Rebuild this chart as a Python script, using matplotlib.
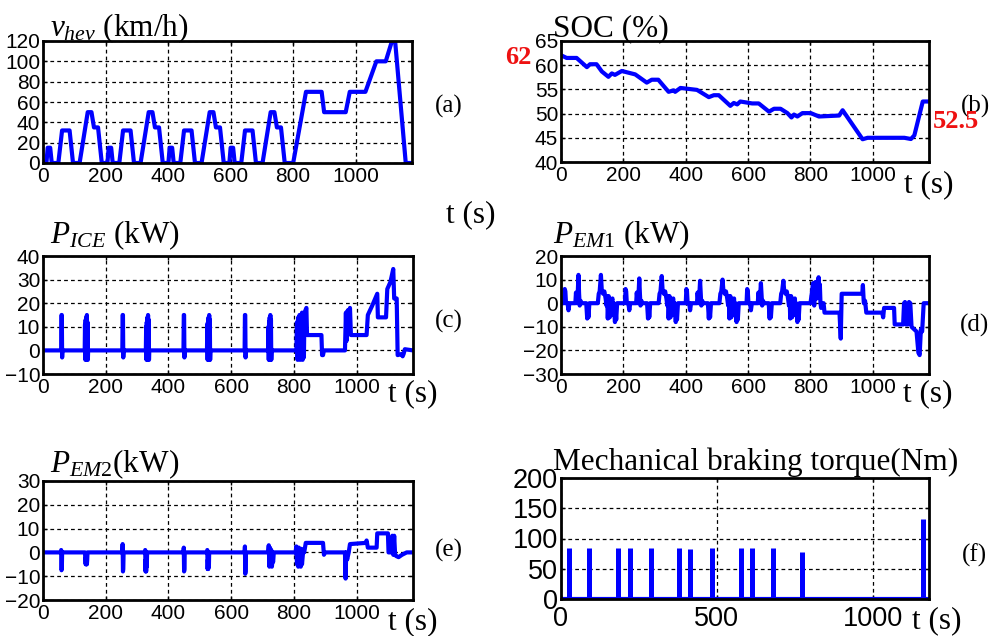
import matplotlib
matplotlib.use("Agg")
import matplotlib.pyplot as plt

plt.rcParams["font.family"] = ["Liberation Sans", "DejaVu Sans"]
plt.rcParams["mathtext.fontset"] = "custom"
plt.rcParams["mathtext.rm"] = "Liberation Serif"
plt.rcParams["mathtext.it"] = "Liberation Serif:italic"
plt.rcParams["mathtext.bf"] = "Liberation Serif:bold"

# ---------------- data ----------------
# vehicle speed over the NEDC (4 urban cycles + extra-urban cycle)
speed_t = [0, 11, 15, 23, 28, 49, 61, 85, 96, 117, 143, 155, 163, 176, 188,
           206, 210, 218, 223, 244, 256, 280, 291, 312, 338, 350, 358, 371, 383,
           401, 405, 413, 418, 439, 451, 475, 486, 507, 533, 545, 553, 566, 578,
           596, 600, 608, 613, 634, 646, 670, 681, 702, 728, 740, 748, 761, 773,
           800, 841, 891, 899, 968, 981, 1031, 1066, 1096, 1116, 1126, 1160, 1180]
speed_v = [0, 0, 15, 15, 0, 0, 32, 32, 0, 0, 50, 50, 35, 35, 0,
           0, 15, 15, 0, 0, 32, 32, 0, 0, 50, 50, 35, 35, 0,
           0, 15, 15, 0, 0, 32, 32, 0, 0, 50, 50, 35, 35, 0,
           0, 15, 15, 0, 0, 32, 32, 0, 0, 50, 50, 35, 35, 0,
           0, 70, 70, 50, 50, 70, 70, 100, 100, 120, 120, 0, 0]

# battery state of charge
soc_t = [0, 2, 18, 50, 83, 93, 114, 131, 152, 163, 173, 195, 238, 275, 291,
         312, 345, 361, 366, 383, 436, 474, 490, 506, 543, 554, 565, 575, 613,
         634, 667, 683, 704, 726, 739, 747, 758, 774, 801, 827, 892, 903, 967,
         983, 1101, 1122, 1133, 1160, 1180]
soc_v = [62, 62, 61.5, 61.5, 59.6, 60.2, 60.2, 58.7, 57.6, 58.3, 58, 58.8, 58.1,
         56.4, 57, 57, 54.5, 54.8, 54.5, 55.3, 54.9, 53.4, 53.8, 53.8, 51.6,
         52.2, 51.9, 52.5, 52.1, 52.1, 50.4, 51, 51, 50.1, 49.2, 49.8, 49.4,
         50.1, 50.1, 49.4, 49.6, 50.7, 44.7, 45, 45, 44.75, 45.5, 52.5, 52.5]
soc_start = 62
soc_end = 52.5

# engine power
pice_t = [0, 58, 59, 60, 61, 62,
          133, 134, 135, 136, 137, 138, 139, 140, 141, 142, 143, 144,
          253, 254, 255, 256, 257,
          328, 329, 330, 331, 332, 333, 334, 335, 336, 337, 338, 339,
          448, 449, 450, 451, 452,
          523, 524, 525, 526, 527, 528, 529, 530, 531, 532, 533, 534,
          643, 644, 645, 646, 647,
          718, 719, 720, 721, 722, 723, 724, 725, 726, 727, 728, 729,
          808, 810, 812, 814, 816, 818, 820, 822, 824, 826, 828, 830, 832, 834,
          837, 840, 842,
          888, 890, 893, 896, 963, 966, 968, 972, 976, 979, 982, 1032, 1036,
          1050, 1066, 1068, 1070, 1094, 1098, 1108, 1117, 1120, 1128, 1131,
          1144, 1147, 1150, 1154, 1180]
pice_v = [0, 0, 15, 15, -3, 0,
          0, 11, -4, 13, -3, 14, -4, 15, -3, 12, -4, 0,
          0, 15, 15, -3, 0,
          0, 10, -4, 12, -3, 14, -4, 15, -3, 13, -4, 0,
          0, 15, 15, -3, 0,
          0, 11, -4, 12, -3, 14, -4, 15, -3, 13, -4, 0,
          0, 15, 15, -3, 0,
          0, 10, -4, 12, -3, 14, -4, 15, -3, 13, -4, 0,
          0, 12, -4, 14, -3, 15, -4, 14, -3, 16, -4, 15, -3, 16,
          17, 18, 6.5,
          6.5, -2, -2, 0, 0, 16, 4, 17, 12, 18, 6.5, 6.5, 15,
          19, 24, 14, 14, 14, 26, 29, 34.5, 22, 22, -2,
          -1.5, -2.5, -1.5, 0.5, 0]

# electric machine 1 power
pem1_t = [0,
          10, 12, 14, 16, 21, 24, 27, 46, 48, 51, 53, 56, 58, 60, 63, 66, 81, 84,
          86, 88, 91, 118, 121, 124, 128, 131, 135, 139, 143, 146, 148, 150, 153,
          156, 159, 165, 167, 169, 173, 175, 177, 180,
          205, 207, 209, 211, 216, 219, 222, 241, 243, 246, 248, 251, 253, 255,
          258, 261, 276, 279, 281, 283, 286, 313, 316, 319, 323, 326, 330, 334,
          338, 341, 343, 345, 348, 351, 354, 360, 362, 364, 368, 370, 372, 375,
          400, 402, 404, 406, 411, 414, 417, 436, 438, 441, 443, 446, 448, 450,
          453, 456, 471, 474, 476, 478, 481, 508, 511, 514, 518, 521, 525, 529,
          533, 536, 538, 540, 543, 546, 549, 555, 557, 559, 563, 565, 567, 570,
          595, 597, 599, 601, 606, 609, 612, 631, 633, 636, 638, 641, 643, 645,
          648, 651, 666, 669, 671, 673, 676, 703, 706, 709, 713, 716, 720, 724,
          728, 731, 733, 735, 738, 741, 744, 750, 752, 754, 758, 760, 762, 765,
          800, 806, 808, 810, 812, 814, 816, 818, 820, 823, 826, 828, 830, 832,
          834, 838, 842, 845, 893, 897, 900, 966, 968, 971, 975, 979, 1030, 1033,
          1036, 1068, 1070, 1097, 1100, 1103, 1106, 1112, 1116, 1120, 1124, 1140,
          1146, 1150, 1154, 1158, 1163, 1180]
pem1_v = [0,
          0, 6, 5, 0, 0, -3, 0, 0, 4.5, 0, 2, 12, 4, -1, 1, 0, 0, -6.5,
          -1, -6, 0, 0, 4, 5, 12, 5, 4, 5, 2, -1, 3, -6.5, 3,
          -6, 0, 2, -5, 0, -8, -3, -7, 0,
          0, 6, 5, 0, 0, -3, 0, 0, 4.5, 0, 2, 10.5, 4, -1,
          1, 0, 0, -6.5, -1, -6, 0, 0, 4, 5, 11.5, 5, 4, 5,
          2, -1, 3, -6.5, 3, -6, 0, 2, -5, 0, -8, -3, -7, 0,
          0, 6, 5, 0, 0, -3, 0, 0, 4.5, 0, 2, 9.5, 4, -1,
          1, 0, 0, -6.5, -1, -6, 0, 0, 4, 5, 10, 5, 4, 5,
          2, -1, 3, -6.5, 3, -6, 0, 2, -5, 0, -8, -3, -7, 0,
          0, 6, 5, 0, 0, -3, 0, 0, 4.5, 0, 2, 8.5, 4, -1,
          1, 0, 0, -6.5, -1, -6, 0, 0, 4, 5, 9.5, 5, 4, 5,
          2, -1, 3, -6.5, 3, -6, 0, 2, -5, 0, -8, -3, -7, 0,
          0, 6, 8.5, 2, -1, 4, 9, 3, 2, 6, 11, 5, 8, 0,
          -2, 0, 0, -4, -4, -15, 4, 4, 7.7, 0, 1, -4, -4, -6,
          -2, -2, -9, -9, 0, 0.5, -9, -9, 0.5, 0, -10, -12,
          -21, -22, -11, -12, 0, 0]

# electric machine 2 power
pem2_t = [0, 57, 58, 59, 60, 61,
          134, 135, 136, 137, 138, 139, 140, 141, 142,
          253, 254, 255, 256, 257,
          325, 326, 327, 328, 329, 330, 331, 332,
          448, 449, 450, 451, 452,
          523, 524, 525, 526, 527, 528, 529, 530,
          643, 644, 645, 646, 647,
          718, 720, 722, 724, 726, 728, 730, 732, 734, 736,
          806, 808, 810, 812, 814, 816, 818, 820, 822, 824, 826, 828, 830, 833,
          838, 893, 896, 900, 963, 965, 967, 970, 975, 979, 1030, 1032, 1036,
          1064, 1066, 1100, 1102, 1112, 1114, 1117, 1120, 1123, 1126, 1134, 1145,
          1160, 1180]
pem2_v = [0, 0, 1, -7.5, -7, 0,
          0, -3, -5, -2, -5, -4, -5, -3, 0,
          0, 3.5, -8, -7, 0,
          0, 1, -8, -3, -8, -4, -6, 0,
          0, 2, -8, -7, 0,
          0, 1, -7, -3, -7, -5, -6, 0,
          0, 2.5, -9, -8, 0,
          0, 3, -6, 2, -5, 1, -6, -3, -4, 0,
          0, 2.5, -5, 1, -6, 2, -5, 0, -6, 1.5, -5, -2, 1, 0,
          4, 4, -1, 0, 0, -11, 0, -3, 0, 3.5, 4, 5, 2,
          2, 8, 8, 0, 0, 7, -1, 7, -1, -1.5, -2, -1,
          0, 0]

# mechanical braking torque pulses
brake_t = [25, 91, 184, 222, 288, 379, 415, 484, 576, 611, 680, 774, 1162]
brake_v = [84, 84, 84, 84, 84, 84, 83, 84, 84, 84, 84, 78, 132]

# ---------------- figure ----------------
W, H = 991, 636
fig = plt.figure(figsize=(W / 100, H / 100), dpi=100)


def box(l, t, r, b):
    return [l / W, 1 - b / H, (r - l) / W, (b - t) / H]


BLUE = "#0000ff"
LW = 3.0
TICK_FS = 15
SERIF = ["Liberation Serif", "DejaVu Serif"]
TITLE_FS = 22.5


def style(ax, yticks, xticks=(0, 200, 400, 600, 800, 1000), fs=TICK_FS, xpad=3):
    ax.set_xlim(0, 1180)
    ax.set_ylim(yticks[0], yticks[-1])
    ax.set_yticks(yticks)
    ax.set_xticks(xticks)
    ax.grid(True, color="black", linestyle=(0, (3, 2.5)), linewidth=0.9)
    for s in ax.spines.values():
        s.set_linewidth(2.0)
    ax.tick_params(direction="in", length=3, width=1, top=True, right=True,
                   labelsize=fs)
    ax.tick_params(axis="y", pad=2)
    ax.tick_params(axis="x", pad=xpad)


def line(ax, t, v):
    ax.plot(t, v, color=BLUE, lw=LW, solid_capstyle="round",
            solid_joinstyle="round", clip_on=True)


ax_a = fig.add_axes(box(43, 41, 412, 163))
line(ax_a, speed_t, speed_v)
style(ax_a, [0, 20, 40, 60, 80, 100, 120])

ax_b = fig.add_axes(box(561, 41, 929, 162))
line(ax_b, soc_t, soc_v)
style(ax_b, [40, 45, 50, 55, 60, 65])

ax_c = fig.add_axes(box(43, 256, 413, 374))
line(ax_c, pice_t, pice_v)
style(ax_c, [-10, 0, 10, 20, 30, 40])

ax_d = fig.add_axes(box(561, 256, 929, 374))
line(ax_d, pem1_t, pem1_v)
style(ax_d, [-30, -20, -10, 0, 10, 20])

ax_e = fig.add_axes(box(43, 481, 413, 600))
line(ax_e, pem2_t, pem2_v)
style(ax_e, [-20, -10, 0, 10, 20, 30])

ax_f = fig.add_axes(box(561, 478, 929, 599))
ax_f.axhline(0, color=BLUE, lw=LW)
ax_f.vlines(brake_t, 0, brake_v, color=BLUE, lw=3.6)
style(ax_f, [0, 50, 100, 150, 200], xticks=(0, 500, 1000), fs=19.5, xpad=5)


def ftext(x, y, s, **kw):
    fig.text(x / W, 1 - y / H, s, **kw)


# panel titles
ttl = dict(fontsize=TITLE_FS, family=SERIF, ha="left", va="baseline")
ftext(50, 36, r"$v_{hev}$ (km/h)", **ttl)
ftext(553, 36, "SOC (%)", **ttl)
ftext(50, 243, r"$P_{ICE}$ (kW)", **ttl)
ftext(553, 243, r"$P_{\mathit{EM1}}$ (kW)", **ttl)
ftext(50, 472, r"$P_{\mathit{EM2}}$(kW)", **ttl)
ftext(553, 470, "Mechanical braking torque(Nm)", **ttl)

# time axis labels
tl = dict(fontsize=TITLE_FS, family=SERIF, ha="left", va="center")
ftext(446, 215, "t (s)", **tl)
ftext(904, 185, "t (s)", **tl)
ftext(388, 394, "t (s)", **tl)
ftext(903, 394, "t (s)", **tl)
ftext(388, 622, "t (s)", **tl)
ftext(912, 621, "t (s)", **tl)

# panel letters
pl = dict(fontsize=18, family=SERIF, ha="left", va="center")
ftext(435, 106, "(a)", **pl)
ftext(961, 106, "(b)", **pl)
ftext(435, 321, "(c)", **pl)
ftext(960, 325, "(d)", **pl)
ftext(435, 550, "(e)", **pl)
ftext(962, 555, "(f)", **pl)

# SOC start / end values
rl = dict(fontsize=19, family=SERIF, weight="bold", color="#ee1111",
          va="center")
ftext(505, 57, f"{soc_start:g}", ha="left", **rl)
ftext(933, 122, f"{soc_end:g}", ha="left", **rl)

fig.savefig("out.png", dpi=100)
